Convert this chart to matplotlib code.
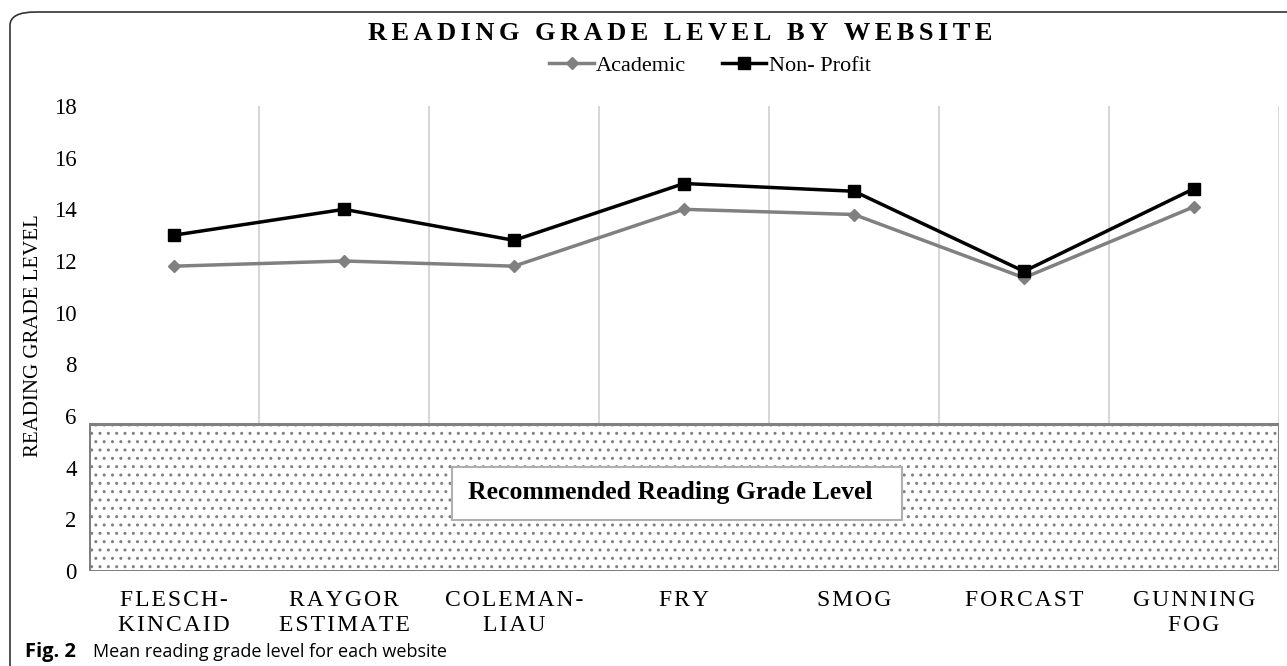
import matplotlib.pyplot as plt
from matplotlib.patches import Rectangle, FancyBboxPatch

categories = ['FLESCH-\nKINCAID', 'RAYGOR\nESTIMATE', 'COLEMAN-\nLIAU', 'FRY',
              'SMOG', 'FORCAST', 'GUNNING\nFOG']
academic = [11.8, 12.0, 11.8, 14.0, 13.8, 11.35, 14.1]
non_profit = [13.0, 14.0, 12.8, 15.0, 14.7, 11.6, 14.8]
recommended_max = 5.7
yticks = [0, 2, 4, 6, 8, 10, 12, 14, 16, 18]

serif = 'Liberation Serif'


def spaced(s, sep='\u200a'):
    # wide letter spacing like the original Excel export
    return '\n'.join(sep.join(line) for line in s.split('\n'))


fig = plt.figure(figsize=(12.87, 6.66), dpi=100)
ax = fig.add_axes([89 / 1287, 1 - 571 / 666, 1190 / 1287, 465 / 666])

x = list(range(len(categories)))

# recommended band
plt.rcParams['hatch.color'] = '#444444'
plt.rcParams['hatch.linewidth'] = 1.0
band = Rectangle((-0.5, 0), len(categories), recommended_max, facecolor='white',
                 edgecolor='#808080', linewidth=2.2, hatch='..', zorder=2)
ax.add_patch(band)
ax.add_patch(Rectangle((1.635, 1.97), 2.65, 2.06, facecolor='white',
                       edgecolor='#b0b0b0', linewidth=1.5, zorder=3))
ax.text(2.92, 3.02, 'Recommended Reading Grade Level', family=serif, fontsize=18.5,
        fontweight='bold', ha='center', va='center', zorder=4)

ax.plot(x, academic, color='#808080', lw=2.5, marker='D', ms=6, label='Academic', zorder=5)
ax.plot(x, non_profit, color='black', lw=2.5, marker='s', ms=9, label='Non- Profit', zorder=6)

for b in [i + 0.5 for i in range(len(categories))]:
    ax.axvline(b, color='#d0d0d0', lw=1.2, zorder=1)

ax.set_xlim(-0.5, len(categories) - 0.5)
ax.set_ylim(0, 18)
ax.set_yticks(yticks)
ax.set_yticklabels([str(v) for v in yticks], family=serif, fontsize=16.5)
ax.set_xticks(x)
ax.set_xticklabels([spaced(c) for c in categories], family=serif, fontsize=17,
                   linespacing=1.2)
ax.tick_params(axis='x', length=0, pad=14)
ax.tick_params(axis='y', length=0, pad=9)
for s in ax.spines.values():
    s.set_visible(False)

fig.text(34 / 1287, 1 - 336 / 666, 'READING GRADE LEVEL', family=serif, fontsize=15,
         rotation=90, ha='center', va='center')
fig.text(680 / 1287, 1 - 33 / 666,
         spaced('READING GRADE LEVEL BY WEBSITE', sep='\u200a\u200a'),
         family=serif, fontsize=19, fontweight='bold', ha='center', va='center')

leg = ax.legend(loc='center', bbox_to_anchor=(710 / 1287, 1 - 66 / 666),
                bbox_transform=fig.transFigure, ncol=2, frameon=False,
                prop={'family': serif, 'size': 16}, handlelength=2.0,
                handletextpad=0.1, columnspacing=1.6)

fig.text(25 / 1287, 1 - 652 / 666, 'Fig. 2', fontsize=14.5, va='center',
         family='Open Sans', fontweight='bold')
fig.text(93 / 1287, 1 - 652 / 666, 'Mean reading grade level for each website',
         fontsize=13, va='center', family='Open Sans')

frame = FancyBboxPatch((10 / 1287, -0.1), 1.2, 1.1 - 12 / 666,
                       boxstyle='round,pad=0,rounding_size=0.02',
                       transform=fig.transFigure, facecolor='none',
                       edgecolor='#333333', linewidth=1.2)
fig.patches.append(frame)

fig.savefig('out.png', dpi=100)
